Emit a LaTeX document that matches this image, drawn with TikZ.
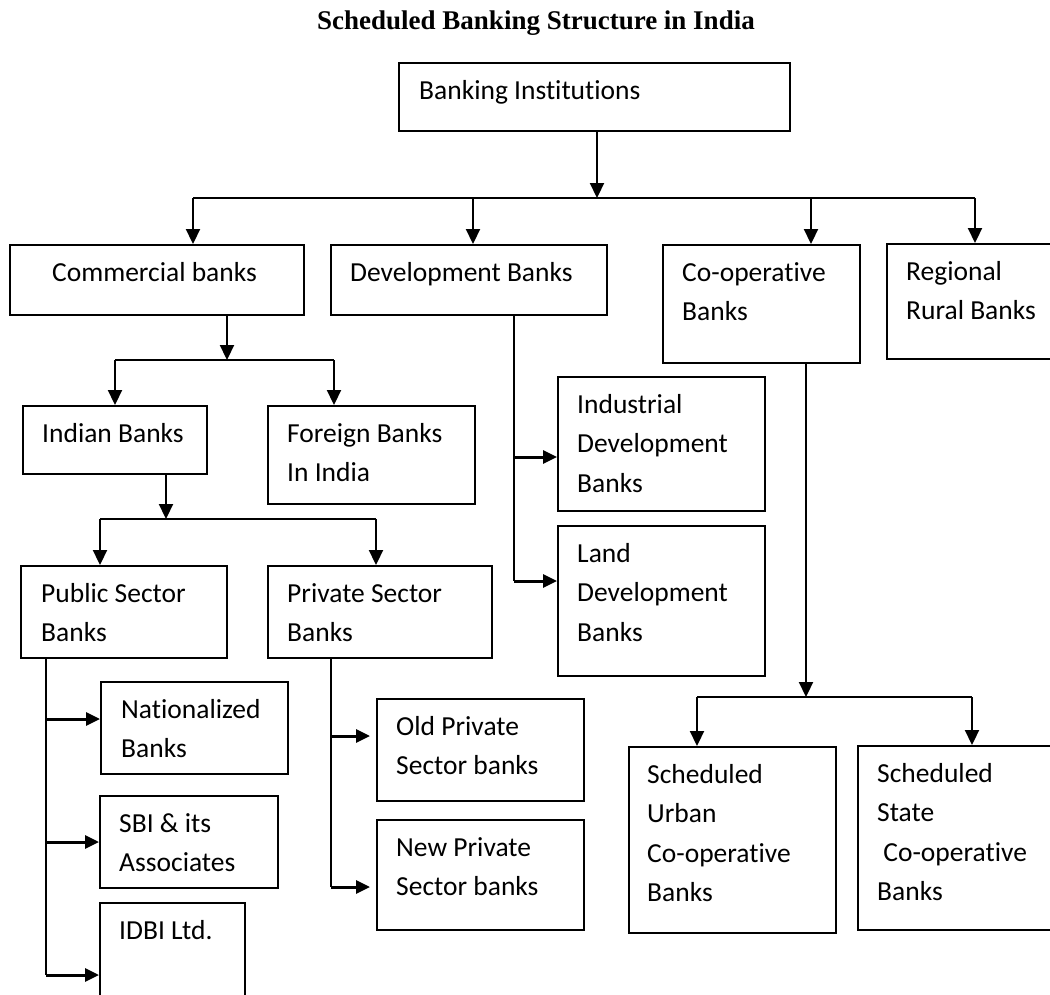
\documentclass[tikz,border=0pt]{standalone}
\usepackage{fontspec}
\setmainfont{Carlito}[Ligatures=NoCommon]
\newfontfamily\titlefont{Liberation Serif}
\usetikzlibrary{arrows.meta}

\begin{document}
\begin{tikzpicture}[x=1pt,y=-1pt,
		box/.style={draw,line width=2pt,anchor=north west,inner sep=0pt},
		txt/.style={anchor=north west,inner sep=0pt,align=left,font=\fontsize{27.5}{39.5}\selectfont},
		bus/.style={line width=2pt},
		arr/.style={line width=2.2pt,-{Triangle[length=15pt,width=14pt]}},
		harr/.style={line width=3pt,-{Triangle[length=14pt,width=13pt]}}]
		\useasboundingbox (0,0) rectangle (1050,994);
		\node[anchor=base] (title) at (536,29) {\titlefont\bfseries\fontsize{27}{30}\selectfont Scheduled Banking Structure in India};

		% boxes: name/x/y/width/height/indent/text
		\foreach \nm/\x/\y/\w/\h/\p/\t in {
				bi/398/62/391/68/21/{Banking Institutions},
				cb/9/244/294/70/43/{Commercial banks},
				db/330/244/276/70/20/{Development Banks},
				co/662/244/197/118/20/{Co-operative\\Banks},
				rr/886/243/172/115/20/{Regional\\Rural Banks},
				ib/22/405/184/68/20/{Indian Banks},
				fb/267/405/207/98/20/{Foreign Banks\\In India},
				idb/557/376/207/134/20/{Industrial\\Development\\Banks},
				ldb/557/525/207/150/20/{Land\\Development\\Banks},
				ps/20/565/206/92/21/{Public Sector\\Banks},
				pv/267/565/224/92/20/{Private Sector\\Banks},
				nb/100/681/187/92/21/{Nationalized\\Banks},
				sbi/99/795/178/92/20/{SBI \& its\\Associates},
				idbi/99/902/145/100/20/{IDBI Ltd.},
				op/376/698/207/102/20/{Old Private\\Sector banks},
				np/376/819/207/110/20/{New Private\\Sector banks},
				su/628/746/207/186/19/{Scheduled\\Urban\\Co-operative\\Banks},
				ss/857/745/205/184/20/{Scheduled\\State\\\ Co-operative\\Banks}} {
				\node[box,minimum width=\w pt,minimum height=\h pt] (\nm) at (\x,\y) {};
				\node[txt] (\nm-t) at ([shift={(\p,18)}]\nm.north west) {\t};
			}

		% banking institutions
		\coordinate (j1) at (597,198);
		\foreach \c/\x in {cb/193,db/473,co/811,rr/975} {
				\coordinate (\c-in) at (\x,198);
			}
		\draw[arr] (bi.south -| j1) -- (j1);
		\draw[bus] (cb-in) -- (rr-in);
		\foreach \c in {cb,db,co,rr} {
				\draw[arr] (\c-in) -- (\c-in |- \c.north);
			}

		% commercial banks
		\coordinate (j2) at (227,360);
		\coordinate (ib-in) at (115,360);
		\coordinate (fb-in) at (334,360);
		\draw[arr] (cb.south -| j2) -- (j2);
		\draw[bus] (ib-in) -- (fb-in);
		\foreach \c in {ib,fb} {
				\draw[arr] (\c-in) -- (\c-in |- \c.north);
			}

		% indian banks
		\coordinate (j3) at (166,519);
		\coordinate (ps-in) at (100,519);
		\coordinate (pv-in) at (376,519);
		\draw[arr] (ib.south -| j3) -- (j3);
		\draw[bus] (ps-in) -- (pv-in);
		\foreach \c in {ps,pv} {
				\draw[arr] (\c-in) -- (\c-in |- \c.north);
			}

		% development banks
		\coordinate (idb-in) at (514,457);
		\coordinate (ldb-in) at (514,581);
		\draw[line width=1.6pt] (db.south -| ldb-in) -- (ldb-in);
		\foreach \c in {idb,ldb} {
				\draw[harr] (\c-in) -- (\c-in -| \c.west);
			}

		% co-operative banks
		\coordinate (j4) at (806,697);
		\coordinate (su-in) at (697,697);
		\coordinate (ss-in) at (972,697);
		\draw[arr] (co.south -| j4) -- (j4);
		\draw[bus] (su-in) -- (ss-in);
		\foreach \c in {su,ss} {
				\draw[arr] (\c-in) -- (\c-in |- \c.north);
			}

		% public sector banks
		\coordinate (nb-in) at (46,719);
		\coordinate (sbi-in) at (46,842);
		\coordinate (idbi-in) at (46,975);
		\draw[bus] (ps.south -| idbi-in) -- (idbi-in);
		\foreach \c in {nb,sbi,idbi} {
				\draw[harr] (\c-in) -- (\c-in -| \c.west);
			}

		% private sector banks
		\coordinate (op-in) at (331,736);
		\coordinate (np-in) at (331,887);
		\draw[bus] (pv.south -| np-in) -- (np-in);
		\foreach \c in {op,np} {
				\draw[harr,shorten >=6pt] (\c-in) -- (\c-in -| \c.west);
			}
	\end{tikzpicture}
\end{document}
